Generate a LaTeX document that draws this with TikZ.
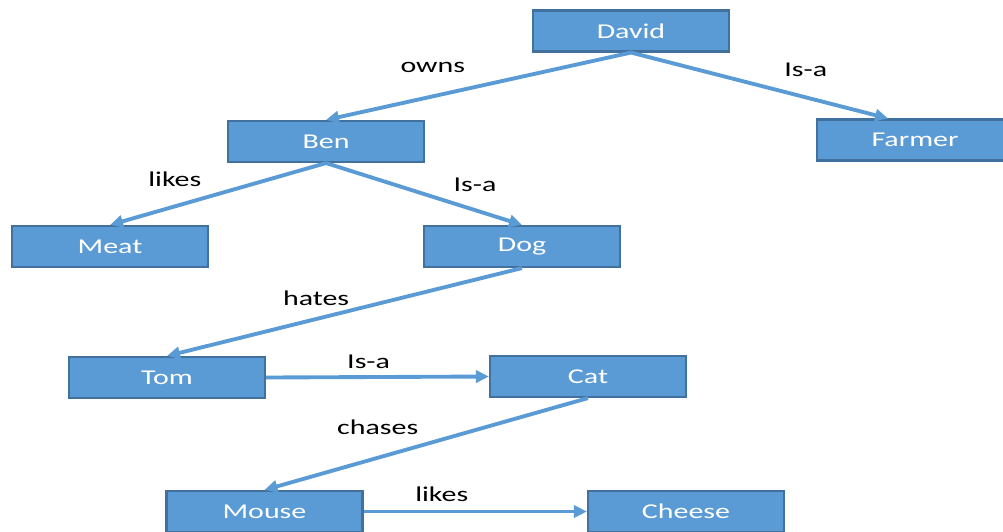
\documentclass[tikz,border=0pt]{standalone}
\usepackage{fontspec}
\setmainfont[FakeStretch=1.42]{Carlito}
\usetikzlibrary{arrows.meta}
\definecolor{netblue}{HTML}{5B9BD5}
\definecolor{netedge}{HTML}{41719C}

\begin{document}
\begin{tikzpicture}[
    concept/.style={rectangle, draw=netedge, fill=netblue, text=white,
                   minimum width=1.96cm, minimum height=0.41cm, inner sep=0pt,
                   font=\fontsize{6}{7}\selectfont, line width=0.6pt},
    relation/.style={-{Triangle[length=1.3mm, width=1.2mm]}, line width=1.1pt, netblue},
    rel/.style={font=\fontsize{6}{7}\selectfont, text=black}
]
\useasboundingbox (0,0) rectangle (10.03,-5.31);

% Concepts
\node[concept] at (6.31,-0.31) (david) {David};
\node[concept] at (3.26,-1.415) (ben) {Ben};
\node[concept] at (9.15,-1.40) (farmer) {Farmer};
\node[concept] at (1.10,-2.465) (meat) {Meat};
\node[concept] at (5.22,-2.465) (dog) {Dog};
\node[concept] at (1.67,-3.775) (tom) {Tom};
\node[concept] at (5.88,-3.765) (cat) {Cat};
\node[concept] at (2.645,-5.115) (mouse) {Mouse};
\node[concept] at (6.86,-5.115) (cheese) {Cheese};

% Relations
\draw[relation] (david.south) -- node[rel, pos=.65, yshift=.29cm] {owns} (ben.north);
\draw[relation] (david.south) -- node[rel, pos=.68, yshift=.28cm] {Is-a} ([xshift=-0.27cm]farmer.north);
\draw[relation] (ben.south) -- node[rel, pos=.70, yshift=.27cm] {likes} (meat.north);
\draw[relation] (ben.south) -- node[rel, pos=.76, yshift=.25cm] {Is-a} (dog.north);
\draw[relation] (dog.south) -- node[rel, pos=.58, yshift=.21cm] {hates} (tom.north);
\draw[relation] (tom.east) -- node[rel, pos=.46, yshift=.15cm] {Is-a} (cat.west);
\draw[relation] (cat.south) -- node[rel, pos=.65, yshift=.31cm] {chases} (mouse.north);
\draw[relation] (mouse.east) -- node[rel, pos=.35, yshift=.17cm] {likes} (cheese.west);

\end{tikzpicture}
\end{document}
